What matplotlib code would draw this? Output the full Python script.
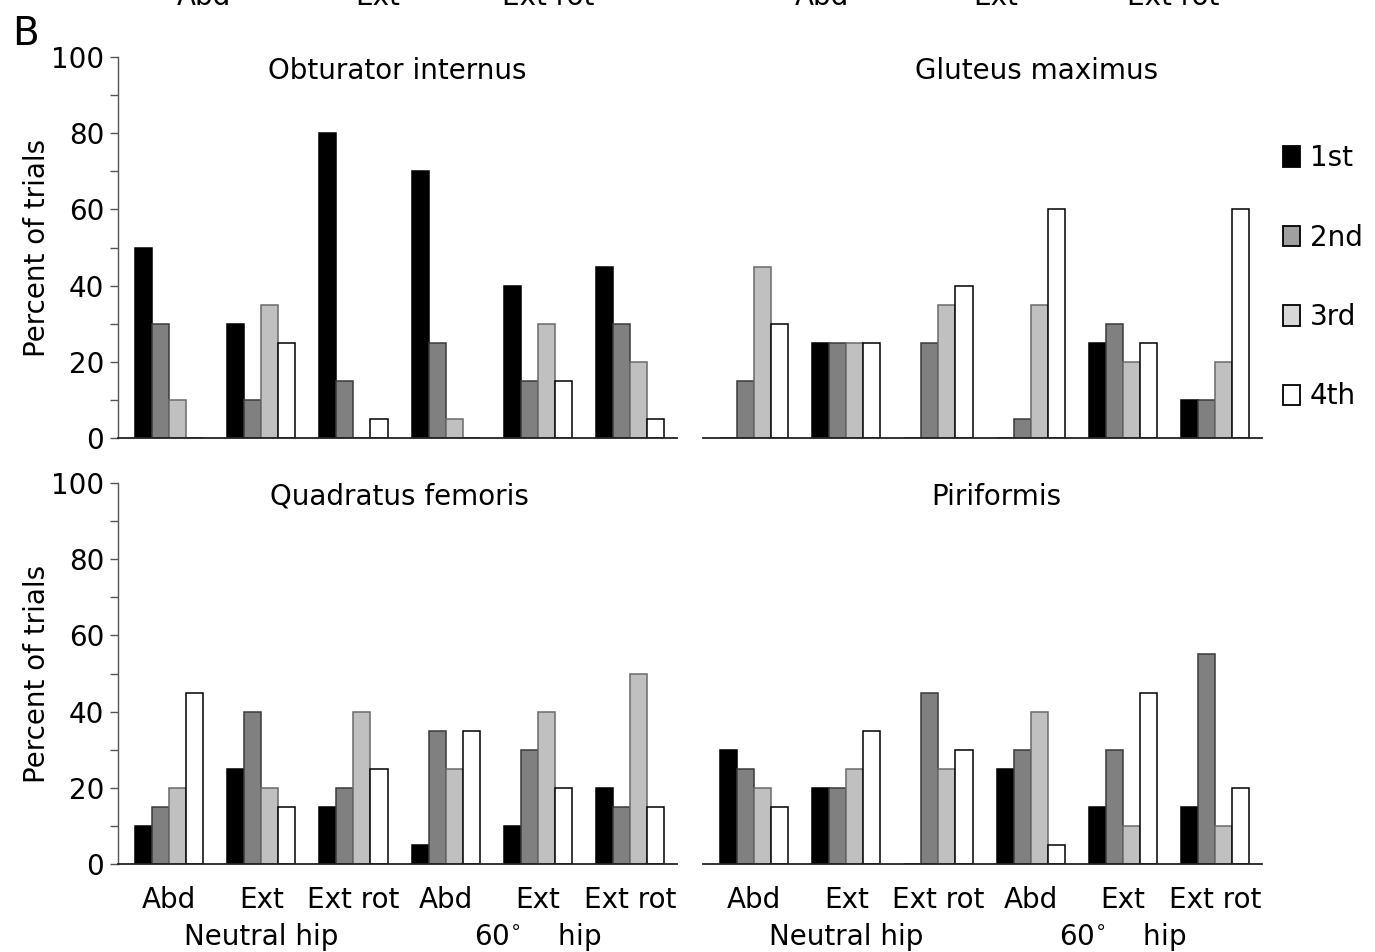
import matplotlib.pyplot as plt
import numpy as np
from matplotlib.patches import Patch

# percent of trials in which each muscle was recruited 1st..4th
conditions = ["Abd", "Ext", "Ext rot", "Abd", "Ext", "Ext rot"]
orders = ["1st", "2nd", "3rd", "4th"]

obturator_1st = [50, 30, 80, 70, 40, 45]
obturator_2nd = [30, 10, 15, 25, 15, 30]
obturator_3rd = [10, 35, 0, 5, 30, 20]
obturator_4th = [0, 25, 5, 0, 15, 5]

gluteus_1st = [0, 25, 0, 0, 25, 10]
gluteus_2nd = [15, 25, 25, 5, 30, 10]
gluteus_3rd = [45, 25, 35, 35, 20, 20]
gluteus_4th = [30, 25, 40, 60, 25, 60]

quadratus_1st = [10, 25, 15, 5, 10, 20]
quadratus_2nd = [15, 40, 20, 35, 30, 15]
quadratus_3rd = [20, 20, 40, 25, 40, 50]
quadratus_4th = [45, 15, 25, 35, 20, 15]

piriformis_1st = [30, 20, 0, 25, 15, 15]
piriformis_2nd = [25, 20, 45, 30, 30, 55]
piriformis_3rd = [20, 25, 25, 40, 10, 10]
piriformis_4th = [15, 35, 30, 5, 45, 20]

fills = ["#000000", "#808080", "#c0c0c0", "#ffffff"]
edges = ["#000000", "#3a3a3a", "#6a6a6a", "#000000"]
FS = 20

plt.rcParams['font.family'] = ['DejaVu Sans']

fig = plt.figure(figsize=(13.75, 9.52), dpi=100)

W = 559 / 1375
H = 381 / 952
panels = [
    ("Obturator internus", [obturator_1st, obturator_2nd, obturator_3rd, obturator_4th],
     [118 / 1375, 514 / 952], True, 0.5),
    ("Gluteus maximus", [gluteus_1st, gluteus_2nd, gluteus_3rd, gluteus_4th],
     [703 / 1375, 514 / 952], False, 0.596),
    ("Quadratus femoris", [quadratus_1st, quadratus_2nd, quadratus_3rd, quadratus_4th],
     [118 / 1375, 88 / 952], True, 0.503),
    ("Piriformis", [piriformis_1st, piriformis_2nd, piriformis_3rd, piriformis_4th],
     [703 / 1375, 88 / 952], False, 0.524),
]

x = np.arange(len(conditions))
bw = 0.185

axes = []
for title, series, (x0, y0), has_y, tx in panels:
    ax = fig.add_axes([x0, y0, W, H])
    axes.append(ax)
    for k, vals in enumerate(series):
        ax.bar(x + (k - 1.5) * bw, vals, bw, color=fills[k], edgecolor=edges[k],
               linewidth=1.1, zorder=2)
    ax.set_xlim(-0.554, 5.51)
    ax.set_ylim(0, 100)
    for s in ["top", "right"]:
        ax.spines[s].set_visible(False)
    ax.spines["bottom"].set_linewidth(1.3)
    ax.spines["bottom"].set_color("#222222")
    ax.set_xticks([])
    if has_y:
        ax.spines["left"].set_color("#555555")
        ax.spines["left"].set_linewidth(1.0)
        ax.set_yticks(np.arange(0, 101, 20))
        ax.set_yticks(np.arange(10, 100, 20), minor=True)
        ax.tick_params(axis="y", which="both", length=6, width=1.0, color="#555555",
                       labelsize=FS, pad=4)
        ax.set_ylabel("Percent of trials", fontsize=FS, labelpad=0)
    else:
        ax.spines["left"].set_visible(False)
        ax.set_yticks([])
    ax.text(tx, 1.0, title, transform=ax.transAxes, ha="center", va="top", fontsize=FS)

# condition labels and hip position under the lower panels
for ax in axes[2:]:
    xt = ax.get_xaxis_transform()
    for i, c in enumerate(conditions):
        ax.text(i, -0.115, c, transform=xt, ha="center", va="baseline", fontsize=FS)
    ax.text(1, -0.213, "Neutral hip", transform=xt, ha="center", va="baseline", fontsize=FS)
    ax.text(4, -0.213, "60$^{\\circ}$    hip", transform=xt, ha="center", va="baseline",
            fontsize=FS)

# labels of the panel above, cut by the top edge
top_px = [204, 378, 548, 822, 996, 1173]
for px, c in zip(top_px, conditions):
    fig.text(px / 1375, 947 / 952, c, ha="center", va="baseline", fontsize=FS)

fig.text(12 / 1375, 907 / 952, "B", ha="left", va="baseline", fontsize=28)

handles = [Patch(facecolor=c, edgecolor="#000000", linewidth=1.3)
           for c in ["#000000", "#a0a0a0", "#d8d8d8", "#ffffff"]]
axes[1].legend(handles, orders, loc="upper left", bbox_to_anchor=(1.018, 0.8),
               frameon=False, fontsize=FS, handlelength=0.6, handleheight=0.75,
               handletextpad=0.35, labelspacing=1.85, borderaxespad=0)

fig.savefig("out.png", dpi=100)
